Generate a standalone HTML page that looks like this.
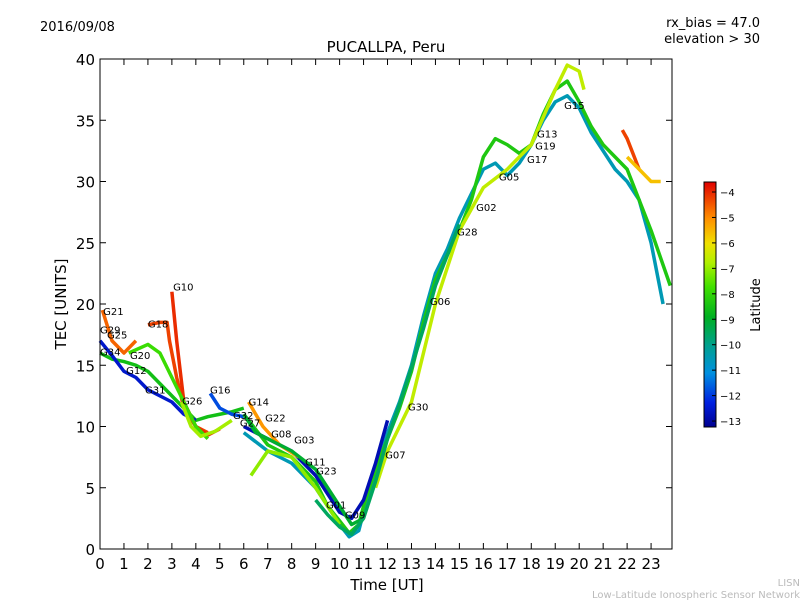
<!DOCTYPE html>
<html><head><meta charset="utf-8">
<style>
body{margin:0;background:#fff;}
svg{display:block;font-family:"DejaVu Sans","Liberation Sans",sans-serif;}
</style></head>
<body>
<svg id="chart" width="800" height="600" viewBox="0 0 800 600">
<defs>
<linearGradient id="cbar" x1="0" y1="1" x2="0" y2="0">
<stop offset="0" stop-color="#00008f"/>
<stop offset="0.1" stop-color="#0020e0"/>
<stop offset="0.22" stop-color="#0090e0"/>
<stop offset="0.33" stop-color="#00a090"/>
<stop offset="0.45" stop-color="#00b020"/>
<stop offset="0.57" stop-color="#40e000"/>
<stop offset="0.67" stop-color="#b0f000"/>
<stop offset="0.75" stop-color="#f0e000"/>
<stop offset="0.85" stop-color="#ff9000"/>
<stop offset="1" stop-color="#e00000"/>
</linearGradient>
</defs>
<text x="40" y="31" font-size="13">2016/09/08</text>
<text x="760" y="27" font-size="13" text-anchor="end">rx_bias = 47.0</text>
<text x="760" y="43" font-size="13" text-anchor="end">elevation &gt; 30</text>
<text x="386" y="52" font-size="15" text-anchor="middle">PUCALLPA, Peru</text>
<g id="series"></g>
<g id="labels"></g>
<rect x="100" y="59" width="572" height="490" fill="none" stroke="#000" stroke-width="1"/>
<g id="axes"></g>
<text x="387" y="590" font-size="15" text-anchor="middle">Time [UT]</text>
<text transform="translate(66,304) rotate(-90)" font-size="15" text-anchor="middle">TEC [UNITS]</text>
<rect x="704" y="182" width="12" height="245" fill="url(#cbar)" stroke="#000" stroke-width="1"/>
<g id="cbticks"></g>
<text transform="translate(760,305) rotate(-90)" font-size="13" text-anchor="middle">Latitude</text>
<text x="800" y="586" font-size="10" fill="#bbb" text-anchor="end">LISN</text>
<text x="800" y="598" font-size="10" fill="#bbb" text-anchor="end">Low-Latitude Ionospheric Sensor Network</text>
</svg>
<script>
const xTicks=[0,1,2,3,4,5,6,7,8,9,10,11,12,13,14,15,16,17,18,19,20,21,22,23];
const yTicks=[0,5,10,15,20,25,30,35,40];
const cbTicks=[-4,-5,-6,-7,-8,-9,-10,-11,-12,-13];
const s1t=[0,0.5,1,1.5,2,2.5,3,3.5,4,4.5,5,5.5,6];
const s1v=[16,15.5,15.3,15,14.5,13.5,12.5,11.5,10.5,10.8,11,11.2,11.5];
const s2t=[0,0.5,1,1.5,2,2.5,3,3.5,4];
const s2v=[17,15.8,14.5,14,13,12.5,12,11,10.5];
const s3t=[2,2.5,2.8,2.9,3.2,3.5,4,4.5];
const s3v=[18.3,18.5,18.5,17,14,11.5,10,9.5];
const s4t=[3.0,3.2,3.5,4,4.5,5];
const s4v=[21,17,12,10,9.3,9.8];
const s5t=[1.2,2,2.5,3,3.5,4,4.5];
const s5v=[16,16.7,16,14,12,10,9];
const s6t=[0.1,0.5,1,1.5];
const s6v=[19.5,17,16,17];
const s7t=[6,7,8,9,9.5,10,10.4,10.8,11,11.5,12,12.5,13,13.5,14,14.5,15,15.5,16,16.5,17,17.5,18,18.5,19,19.5,20,20.5,21,21.5,22,22.5,23,23.5];
const s7v=[9.5,8,7,5,3.5,2,1,1.5,3,6,9.5,12,15,19,22.5,24.5,27,29,31,31.5,30.5,31.5,33,35,36.5,37,36,34,32.5,31,30,28.5,25,20];
const s8t=[6,7,8,9,9.5,10,10.4,10.8,11,11.5,12,12.5,13,13.5,14,14.5,15,15.5,16,16.5,17,17.5,18,18.5,19,19.5,20,20.5,21,22,23,23.8];
const s8v=[11,8.5,7.5,5.5,3.5,2.3,1.3,2,3.5,6.5,9,11.5,14.5,18.5,22,24,26,28.5,32,33.5,33,32.3,33,35.5,37.5,38.2,36.5,34.5,33,31,26,21.5];
const s9t=[11.5,12,13,14,15,16,17,18,19,19.5,20,20.2];
const s9v=[5,8,12,20,26,29.5,31,33,37.5,39.5,39,37.5];
const s10t=[6,7,8,9,10,10.5,11,11.5,12];
const s10v=[10,9,8,6,3,2.5,4,7,10.5];
const s11t=[21.8,22,22.5];
const s11v=[34.2,33.5,31];
const s12t=[22,23,23.4];
const s12v=[32,30,30];
const s13t=[6.3,7,8,9,10];
const s13v=[6,8,7.5,5,2];
const s14t=[4.6,5,5.5,6];
const s14v=[12.7,11.5,11,10.8];
const s15t=[6.2,6.8,7.5,8.3];
const s15v=[12,10,8.5,7.5];
const s16t=[3.4,3.8,4.2,4.8,5.5];
const s16v=[12,10,9.2,9.6,10.5];
const s17t=[6,6.5,7,8,9,10,10.5,11];
const s17v=[11,9.5,9,8,6.5,3.5,2,2.5];
const s18t=[9,9.5,10,10.5,11,11.5,12,12.5,13,13.5,14,14.5,15];
const s18v=[4,2.8,1.8,1.2,2.5,5.5,9,11.8,14.8,18,21.5,24,26.5];
const seriesT=[s1t,s2t,s3t,s4t,s5t,s6t,s7t,s8t,s9t,s10t,s11t,s12t,s13t,s14t,s15t,s16t,s17t,s18t];
const seriesV=[s1v,s2v,s3v,s4v,s5v,s6v,s7v,s8v,s9v,s10v,s11v,s12v,s13v,s14v,s15v,s16v,s17v,s18v];
const seriesLat=[-8.5,-12.5,-4.2,-4.0,-7.8,-4.5,-10.5,-8.3,-6.5,-12.8,-4.2,-5.5,-7,-11.8,-5,-6.8,-9,-9.5];
const labelNames=["G21","G29","G25","G18","G10","G20","G34","G12","G31","G26","G16","G14","G32","G27","G22","G08","G03","G11","G23","G01","G09","G07","G30","G06","G28","G02","G05","G17","G19","G13","G15"];
const labelT=[0.13,0,0.29,2.0,3.05,1.25,0,1.09,1.88,3.42,4.59,6.2,5.55,5.84,6.89,7.14,8.1,8.56,9.02,9.43,10.22,11.9,12.85,13.77,14.9,15.7,16.65,17.82,18.16,18.24,19.37];
const labelV=[19.1,17.6,17.2,18.1,21.1,15.5,15.8,14.3,12.7,11.8,12.7,11.7,10.6,10.0,10.4,9.1,8.6,6.8,6.1,3.3,2.5,7.4,11.3,19.9,25.6,27.6,30.1,31.5,32.6,33.6,35.9];

const NS="http://www.w3.org/2000/svg";
const X=t=>100+t*23.96;
const Y=v=>549-v*12.25;
const CB=l=>192+(-4-l)*25.45;
function latColor(l){
  const stops=[[-13.24,[0,0,143]],[-12.26,[0,32,224]],[-11.1,[0,144,224]],[-10.0,[0,160,144]],[-8.85,[0,176,32]],[-7.7,[64,224,0]],[-6.7,[176,240,0]],[-5.9,[240,224,0]],[-4.9,[255,144,0]],[-3.6,[224,0,0]]];
  if(l<=stops[0][0])return "rgb("+stops[0][1]+")";
  for(let i=1;i<stops.length;i++){
    if(l<=stops[i][0]){const a=stops[i-1],b=stops[i],f=(l-a[0])/(b[0]-a[0]);
      return "rgb("+a[1].map((c,k)=>Math.round(c+(b[1][k]-c)*f)).join(",")+")";}
  }
  return "rgb(224,0,0)";
}
const sg=document.getElementById("series");
seriesT.forEach((ts,i)=>{
  const p=document.createElementNS(NS,"polyline");
  p.setAttribute("points",ts.map((t,j)=>X(t)+","+Y(seriesV[i][j])).join(" "));
  p.setAttribute("fill","none");
  p.setAttribute("stroke",latColor(seriesLat[i]));
  p.setAttribute("stroke-width","3.5");
  p.setAttribute("stroke-linejoin","round");
  
  
  sg.appendChild(p);
});
const lg=document.getElementById("labels");
labelNames.forEach((n,i)=>{
  const t=document.createElementNS(NS,"text");
  t.setAttribute("x",X(labelT[i]));t.setAttribute("y",Y(labelV[i]));
  t.setAttribute("font-size","10");t.textContent=n;
  
  
  lg.appendChild(t);
});
const ax=document.getElementById("axes");
function line(x1,y1,x2,y2,g){const l=document.createElementNS(NS,"line");l.setAttribute("x1",x1);l.setAttribute("y1",y1);l.setAttribute("x2",x2);l.setAttribute("y2",y2);l.setAttribute("stroke","#000");g.appendChild(l);return l;}
xTicks.forEach(t=>{
  const l=line(X(t),549,X(t),543,ax);
  
  
  const l2=line(X(t),59,X(t),65,ax);
  
  
  const tx=document.createElementNS(NS,"text");
  tx.setAttribute("x",X(t));tx.setAttribute("y",569);tx.setAttribute("font-size","15");tx.setAttribute("text-anchor","middle");tx.textContent=t;
  
  
  ax.appendChild(tx);
});
yTicks.forEach(v=>{
  const l=line(100,Y(v),106,Y(v),ax);
  
  
  const l2=line(672,Y(v),666,Y(v),ax);
  
  
  const tx=document.createElementNS(NS,"text");
  tx.setAttribute("x",95);tx.setAttribute("y",Y(v)+6);tx.setAttribute("font-size","15");tx.setAttribute("text-anchor","end");tx.textContent=v;
  
  
  ax.appendChild(tx);
});
const cg=document.getElementById("cbticks");
cbTicks.forEach(v=>{
  const l=line(712,CB(v),716,CB(v),cg);
  
  
  const tx=document.createElementNS(NS,"text");
  tx.setAttribute("x",720);tx.setAttribute("y",CB(v)+4);tx.setAttribute("font-size","10");tx.textContent="\u2212"+Math.abs(v);
  
  
  cg.appendChild(tx);
});
</script>
</body></html>
